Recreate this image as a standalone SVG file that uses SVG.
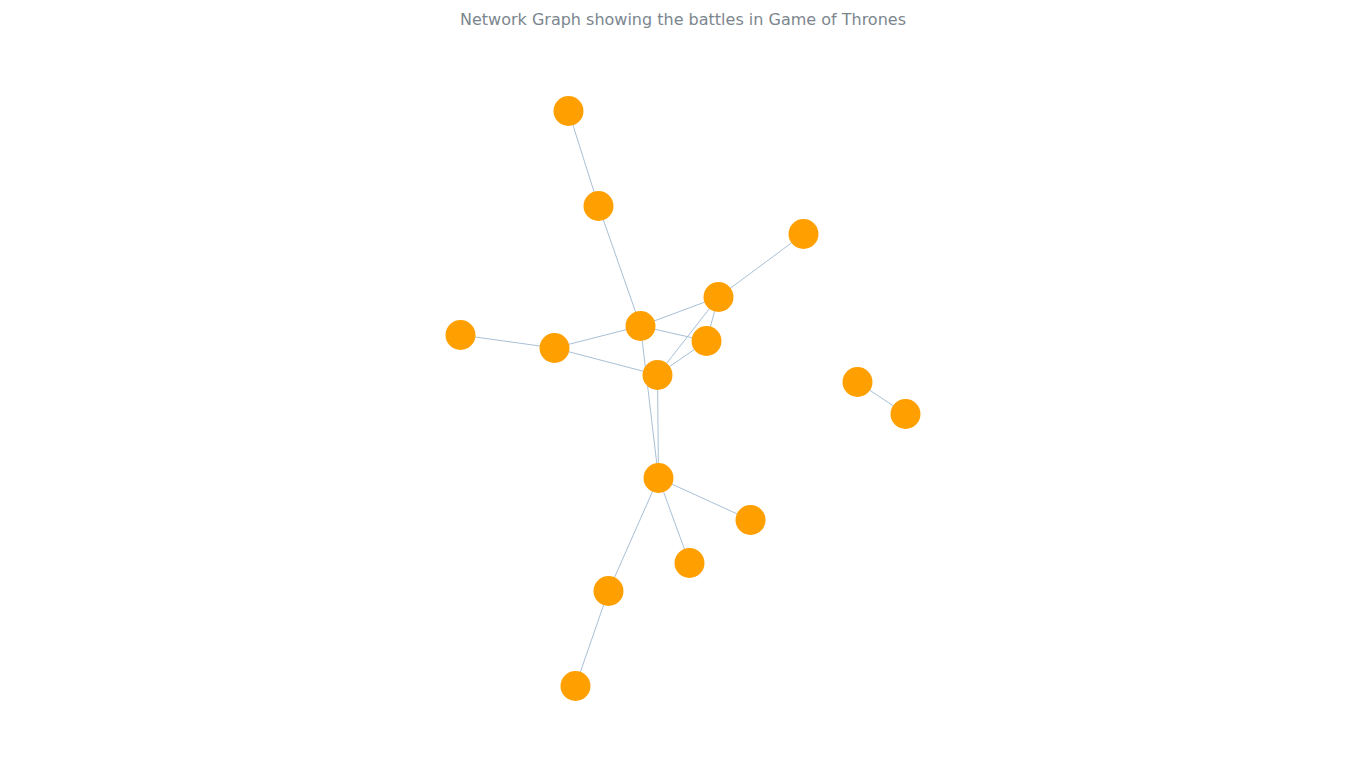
<svg xmlns="http://www.w3.org/2000/svg" width="1366" height="768" viewBox="0 0 1366 768">
<style>
.title{font-family:"DejaVu Sans",Verdana,sans-serif;font-size:16px;fill:#7c868e;text-anchor:middle}
.edge{stroke:#a9c0d6;stroke-width:1;fill:none}
.node{fill:#ffa000}
</style>
<rect width="1366" height="768" fill="#ffffff"/>
<text class="title" x="683" y="25">Network Graph showing the battles in Game of Thrones</text>
<g id="connectors">
<line class="edge" x1="568.5" y1="111" x2="598.5" y2="206"/>
<line class="edge" x1="598.5" y1="206" x2="640.5" y2="326"/>
<line class="edge" x1="803.5" y1="234" x2="718.5" y2="297"/>
<line class="edge" x1="718.5" y1="297" x2="640.5" y2="326"/>
<line class="edge" x1="718.5" y1="297" x2="657.5" y2="375"/>
<line class="edge" x1="718.5" y1="297" x2="706.5" y2="341"/>
<line class="edge" x1="640.5" y1="326" x2="706.5" y2="341"/>
<line class="edge" x1="640.5" y1="326" x2="554.5" y2="348"/>
<line class="edge" x1="460.5" y1="335" x2="554.5" y2="348"/>
<line class="edge" x1="554.5" y1="348" x2="657.5" y2="375"/>
<line class="edge" x1="706.5" y1="341" x2="657.5" y2="375"/>
<line class="edge" x1="640.5" y1="326" x2="658.5" y2="478"/>
<line class="edge" x1="657.5" y1="375" x2="658.5" y2="478"/>
<line class="edge" x1="857.5" y1="382" x2="905.5" y2="414"/>
<line class="edge" x1="658.5" y1="478" x2="750.5" y2="520"/>
<line class="edge" x1="658.5" y1="478" x2="689.5" y2="563"/>
<line class="edge" x1="658.5" y1="478" x2="608.5" y2="591"/>
<line class="edge" x1="608.5" y1="591" x2="575.5" y2="686"/>
</g>
<g id="n1"><circle class="node" cx="568.5" cy="111" r="15"/></g>
<g id="n2"><circle class="node" cx="598.5" cy="206" r="15"/></g>
<g id="n3"><circle class="node" cx="803.5" cy="234" r="15"/></g>
<g id="n4"><circle class="node" cx="718.5" cy="297" r="15"/></g>
<g id="n5"><circle class="node" cx="640.5" cy="326" r="15"/></g>
<g id="n6"><circle class="node" cx="706.5" cy="341" r="15"/></g>
<g id="n7"><circle class="node" cx="460.5" cy="335" r="15"/></g>
<g id="n8"><circle class="node" cx="554.5" cy="348" r="15"/></g>
<g id="n9"><circle class="node" cx="657.5" cy="375" r="15"/></g>
<g id="n10"><circle class="node" cx="857.5" cy="382" r="15"/></g>
<g id="n11"><circle class="node" cx="905.5" cy="414" r="15"/></g>
<g id="n12"><circle class="node" cx="658.5" cy="478" r="15"/></g>
<g id="n13"><circle class="node" cx="750.5" cy="520" r="15"/></g>
<g id="n14"><circle class="node" cx="689.5" cy="563" r="15"/></g>
<g id="n15"><circle class="node" cx="608.5" cy="591" r="15"/></g>
<g id="n16"><circle class="node" cx="575.5" cy="686" r="15"/></g>
</svg>
